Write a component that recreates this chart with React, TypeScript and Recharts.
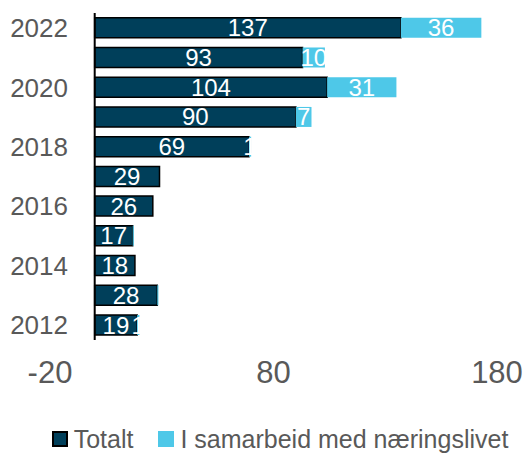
import React from 'react';
import { BarChart, Bar, XAxis, YAxis, Legend, ReferenceLine, LabelList } from 'recharts';

const years = ['2022', '2021', '2020', '2019', '2018', '2017', '2016', '2015', '2014', '2013', '2012'];
const totalt = [137, 93, 104, 90, 69, 29, 26, 17, 18, 28, 19];
const naeringsliv = [36, 10, 31, 7, 1, 0, 0, 0.5, 0, 0.5, 1];
const xTicks = [-20, 80, 180];
const seriesOrder = ['totalt', 'naeringsliv'];

const data = years.map((y, i) => ({ year: y, totalt: totalt[i], naeringsliv: naeringsliv[i] }));

const FONT = '"Liberation Sans", Arial, sans-serif';
const GRAY = '#595959';
const DARK = '#003F5A';
const CYAN = '#4EC8E8';

const hideSmall = (v: any) => (typeof v === 'number' && v >= 1 ? String(v) : '');

const renderLegend = (props: any) => {
  const payload = [...(props.payload || [])].sort(
    (a: any, b: any) => seriesOrder.indexOf(a.dataKey) - seriesOrder.indexOf(b.dataKey)
  );
  return (
    <div style={{ display: 'flex', justifyContent: 'center', alignItems: 'center', whiteSpace: 'nowrap', fontFamily: FONT, fontSize: 25, lineHeight: '28px', color: GRAY, paddingLeft: 28 }}>
      {payload.map((p: any, i: number) => (
        <span key={i} style={{ display: 'inline-flex', alignItems: 'center', marginRight: i === 0 ? 25 : 0 }}>
          <span
            style={{
              display: 'inline-block',
              width: 16,
              height: 16,
              boxSizing: 'border-box',
              background: p.color,
              border: p.dataKey === 'totalt' ? '2px solid #000' : 'none',
              marginRight: 6,
            }}
          />
          <span>{p.value}</span>
        </span>
      ))}
    </div>
  );
};

export default function App() {
  return (
    <div style={{ position: 'absolute', left: 0, top: 0, width: 532, height: 453 }}>
      <BarChart
        width={532}
        height={453}
        data={data}
        layout="vertical"
        margin={{ top: 13, right: 35, left: 0, bottom: 0 }}
        barCategoryGap="16%"
        style={{ fontFamily: FONT }}
      >
        <XAxis
          type="number"
          domain={[-20, 180]}
          ticks={xTicks}
          axisLine={false}
          tickLine={false}
          height={85}
          tickMargin={15}
          tick={{ fill: GRAY, fontSize: 31, fontFamily: FONT }}
        />
        <YAxis
          type="category"
          dataKey="year"
          width={50}
          interval={1}
          axisLine={false}
          tickLine={false}
          tick={{ fill: GRAY, fontSize: 26, fontFamily: FONT, dx: 26 }}
        />
        <Bar dataKey="totalt" name="Totalt" stackId="a" fill={DARK} stroke="#000" strokeWidth={1.5} isAnimationActive={false}>
          <LabelList dataKey="totalt" position="center" fill="#fff" fontSize={24} fontFamily={FONT} formatter={hideSmall} />
        </Bar>
        <Bar dataKey="naeringsliv" name="I samarbeid med næringslivet" stackId="a" fill={CYAN} isAnimationActive={false}>
          <LabelList dataKey="naeringsliv" position="center" fill="#fff" fontSize={24} fontFamily={FONT} formatter={hideSmall} />
        </Bar>
        <ReferenceLine x={0} stroke="#000" strokeWidth={2} />
        <Legend verticalAlign="bottom" align="center" width={532} wrapperStyle={{ left: 0, width: 532 }} content={renderLegend} />
      </BarChart>
    </div>
  );
}
